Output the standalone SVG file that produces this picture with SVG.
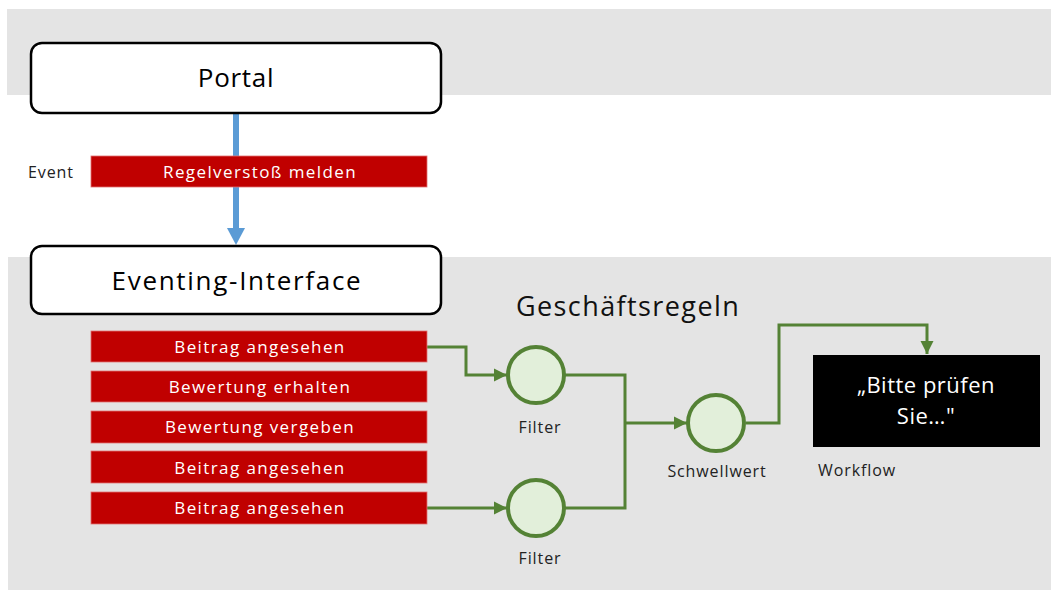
<svg xmlns="http://www.w3.org/2000/svg" width="1051" height="590" viewBox="0 0 1051 590">
<style>
.band{fill:#e4e4e4}
.sys{fill:#fff;stroke:#000;stroke-width:2.5}
.sysT{font-family:"Open Sans","Noto Sans",sans-serif;font-size:26px;fill:#000;text-anchor:middle}
.ev{fill:#c00000;stroke:#e07070;stroke-width:0.8}
.evT{font-family:"Open Sans","Noto Sans",sans-serif;font-size:17px;fill:#fff;text-anchor:middle;letter-spacing:1.4px}
.lbl{font-family:"Open Sans","Noto Sans",sans-serif;font-size:16px;fill:#222;letter-spacing:0.9px}
.rule{fill:#e2efda;stroke:#548235;stroke-width:4}
.gl{fill:none;stroke:#548235;stroke-width:3}
</style>
<defs>
<marker id="ga" viewBox="0 0 10 10" refX="10" refY="5" markerWidth="4.5" markerHeight="4.5" orient="auto" markerUnits="strokeWidth"><path d="M0,0L10,5L0,10z" fill="#548235"/></marker>
</defs>
<rect class="band" x="7" y="9" width="1044" height="86"/>
<rect class="band" x="8" y="257" width="1043" height="333"/>
<text x="516" y="316" font-family="'Open Sans','Noto Sans',sans-serif" font-size="27" fill="#111" letter-spacing="1.4">Geschäftsregeln</text>
<g id="connectors">
<line x1="236" y1="113" x2="236" y2="230" stroke="#5b9bd5" stroke-width="6"/>
<path d="M227,228L245,228L236,245z" fill="#5b9bd5"/>
<path class="gl" d="M427,347H466V375H507" marker-end="url(#ga)"/>
<path class="gl" d="M427,508H507" marker-end="url(#ga)"/>
<path class="gl" d="M565,375H625V508H565"/>
<path class="gl" d="M625,423H687" marker-end="url(#ga)"/>
<path class="gl" d="M746,423H779V325H927V354" marker-end="url(#ga)"/>
</g>
<g id="portal">
<rect class="sys" x="31" y="43" width="410" height="70" rx="11"/>
<text class="sysT" x="236" y="87" letter-spacing="0.7">Portal</text>
</g>
<g id="event-label"><text class="lbl" x="28" y="178">Event</text></g>
<g id="regelverstoss">
<rect class="ev" x="91" y="156" width="336" height="31"/>
<text class="evT" x="260" y="178">Regelverstoß melden</text>
</g>
<g id="eventing-interface">
<rect class="sys" x="31" y="246" width="410" height="68" rx="11"/>
<text class="sysT" x="237" y="290" letter-spacing="1.7">Eventing-Interface</text>
</g>
<g id="ev1"><rect class="ev" x="91" y="331" width="336" height="31"/><text class="evT" x="260" y="353">Beitrag angesehen</text></g>
<g id="ev2"><rect class="ev" x="91" y="371" width="336" height="31"/><text class="evT" x="260" y="393">Bewertung erhalten</text></g>
<g id="ev3"><rect class="ev" x="91" y="411" width="336" height="32"/><text class="evT" x="260" y="433">Bewertung vergeben</text></g>
<g id="ev4"><rect class="ev" x="91" y="451" width="336" height="32"/><text class="evT" x="260" y="474">Beitrag angesehen</text></g>
<g id="ev5"><rect class="ev" x="91" y="492" width="336" height="32"/><text class="evT" x="260" y="514">Beitrag angesehen</text></g>
<g id="filter1"><circle class="rule" cx="536" cy="375" r="28"/><text class="lbl" x="540" y="433" text-anchor="middle">Filter</text></g>
<g id="filter2"><circle class="rule" cx="536" cy="508" r="28"/><text class="lbl" x="540" y="564" text-anchor="middle">Filter</text></g>
<g id="schwellwert"><circle class="rule" cx="716" cy="423" r="28"/><text class="lbl" x="717" y="477" text-anchor="middle">Schwellwert</text></g>
<g id="workflow">
<rect x="813" y="355" width="227" height="92" fill="#000"/>
<text x="926" y="393" font-family="'Open Sans','Noto Sans',sans-serif" font-size="22" fill="#fff" text-anchor="middle" letter-spacing="0.5">„Bitte prüfen</text>
<text x="926" y="424" font-family="'Open Sans','Noto Sans',sans-serif" font-size="22" fill="#fff" text-anchor="middle" letter-spacing="0.5">Sie…"</text>
<text class="lbl" x="818" y="476">Workflow</text>
</g>
</svg>
